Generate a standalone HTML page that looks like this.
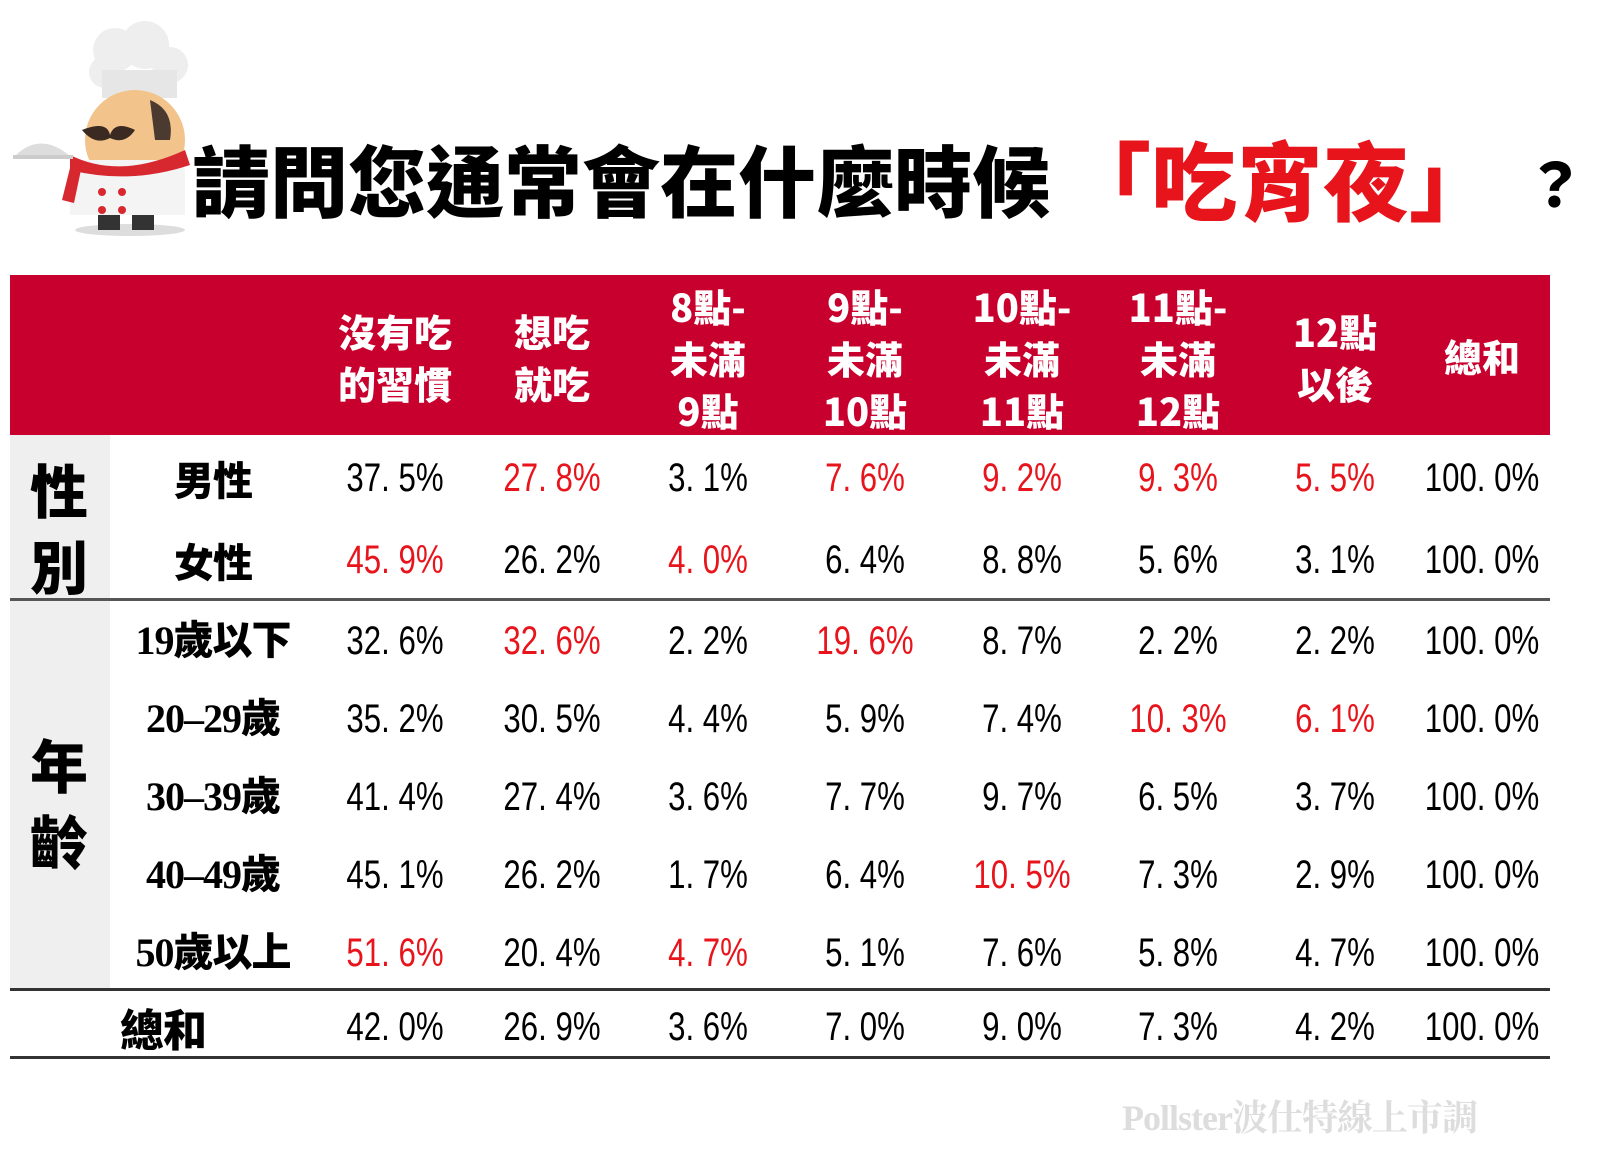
<!DOCTYPE html>
<html><head><meta charset="utf-8">
<style>
body{margin:0;width:1600px;height:1173px;background:#fff;position:relative;overflow:hidden;font-family:"Liberation Sans","Noto Sans CJK TC",sans-serif}
.a{position:absolute}
.t{position:absolute;font-size:78px;font-weight:900;top:122px;letter-spacing:0px;font-family:"Noto Sans CJK TC",sans-serif;white-space:nowrap}
.h{position:absolute;color:#fff;font-weight:900;font-size:38px;line-height:52px;text-align:center;width:160px;font-family:"Noto Sans CJK TC",sans-serif}
.n{position:absolute;font-size:40px;line-height:40px;width:200px;margin-left:-100px;text-align:center;transform:scaleX(0.78);white-space:pre}
.r{color:#e8141c}
.l{position:absolute;font-size:40px;font-weight:900;line-height:44px;width:200px;margin-left:-100px;text-align:center;font-family:"Noto Sans CJK TC",sans-serif;letter-spacing:-1px}
</style></head><body>
<svg class="a" style="left:10px;top:10px" width="190" height="230" viewBox="0 0 190 230">
<ellipse cx="120" cy="220" rx="55" ry="6" fill="#ddd"/>
<circle cx="105" cy="40" r="22" fill="#eee"/><circle cx="135" cy="35" r="24" fill="#eee"/><circle cx="160" cy="55" r="18" fill="#eee"/><circle cx="95" cy="62" r="16" fill="#eee"/>
<rect x="92" y="60" width="75" height="28" fill="#e6e6e6"/>
<ellipse cx="125" cy="130" rx="50" ry="50" fill="#f2c38a"/>
<path d="M140 90 q25 10 20 40 l-15 0z" fill="#4a3a30"/>
<path d="M72 120 q25 -10 28 5 q5 -15 25 -5 q-10 15 -25 8 q-15 8 -28 -8z" fill="#3b2a22"/>
<path d="M60 150 h110 l5 10 v45 h-115z" fill="#f4f4f4"/>
<path d="M60 145 q50 25 115 -5 l5 15 q-60 20 -120 5z" fill="#d7282f"/>
<path d="M62 150 l-10 40 l12 3 l8 -38z" fill="#d7282f"/>
<circle cx="92" cy="182" r="4" fill="#d7282f"/><circle cx="112" cy="182" r="4" fill="#d7282f"/><circle cx="92" cy="200" r="4" fill="#d7282f"/><circle cx="112" cy="200" r="4" fill="#d7282f"/>
<rect x="88" y="205" width="22" height="15" fill="#333"/><rect x="122" y="205" width="22" height="15" fill="#333"/>
<path d="M5 146 q25 -25 55 0z" fill="#ddd"/><rect x="3" y="145" width="60" height="4" fill="#ccc"/>
</svg>
<div class="t" style="left:192px">請問您通常會在什麼時候</div>
<div class="t" style="left:1065px;color:#e8141c;font-size:86px;top:114px">「吃宵夜」</div>
<div class="t" style="left:1525px;font-size:60px;top:138px">？</div>

<div class="a" style="left:10px;top:275px;width:1540px;height:160px;background:#c8002e"></div>
<div class="h" style="left:315px;top:305px">沒有吃<br>的習慣</div>
<div class="h" style="left:472px;top:305px">想吃<br>就吃</div>
<div class="h" style="left:628px;top:280px">8點-<br>未滿<br>9點</div>
<div class="h" style="left:785px;top:280px">9點-<br>未滿<br>10點</div>
<div class="h" style="left:942px;top:280px">10點-<br>未滿<br>11點</div>
<div class="h" style="left:1098px;top:280px">11點-<br>未滿<br>12點</div>
<div class="h" style="left:1255px;top:305px">12點<br>以後</div>
<div class="h" style="left:1402px;top:330px">總和</div>

<div class="a" style="left:10px;top:435px;width:100px;height:555px;background:#efefef"></div>
<div class="a" style="left:10px;top:598px;width:1540px;height:3px;background:#555"></div>
<div class="a" style="left:10px;top:988px;width:1540px;height:3px;background:#333"></div>
<div class="a" style="left:10px;top:1056px;width:1540px;height:3px;background:#333"></div>
<div class="a" style="left:30px;top:450px;font-size:58px;font-weight:900;line-height:76px;font-family:'Noto Sans CJK TC',sans-serif">性<br>別</div>
<div class="a" style="left:30px;top:725px;font-size:58px;font-weight:900;line-height:76px;font-family:'Noto Sans CJK TC',sans-serif">年<br>齡</div>

<div class="l" style="left:213px;top:456px">男性</div>
<div class="l" style="left:213px;top:538px">女性</div>
<div class="l" style="left:213px;top:619px;font-family:'Liberation Serif','Noto Sans CJK TC',serif">19歲以下</div>
<div class="l" style="left:213px;top:697px;font-family:'Liberation Serif','Noto Sans CJK TC',serif">20–29歲</div>
<div class="l" style="left:213px;top:775px;font-family:'Liberation Serif','Noto Sans CJK TC',serif">30–39歲</div>
<div class="l" style="left:213px;top:853px;font-family:'Liberation Serif','Noto Sans CJK TC',serif">40–49歲</div>
<div class="l" style="left:213px;top:931px;font-family:'Liberation Serif','Noto Sans CJK TC',serif">50歲以上</div>
<div class="l" style="left:163px;top:1005px;font-size:44px">總和</div>

<div class="n" style="left:395px;top:458px">37. 5%</div><div class="n r" style="left:552px;top:458px">27. 8%</div><div class="n" style="left:708px;top:458px">3. 1%</div><div class="n r" style="left:865px;top:458px">7. 6%</div><div class="n r" style="left:1022px;top:458px">9. 2%</div><div class="n r" style="left:1178px;top:458px">9. 3%</div><div class="n r" style="left:1335px;top:458px">5. 5%</div><div class="n" style="left:1482px;top:458px">100. 0%</div>
<div class="n r" style="left:395px;top:540px">45. 9%</div><div class="n" style="left:552px;top:540px">26. 2%</div><div class="n r" style="left:708px;top:540px">4. 0%</div><div class="n" style="left:865px;top:540px">6. 4%</div><div class="n" style="left:1022px;top:540px">8. 8%</div><div class="n" style="left:1178px;top:540px">5. 6%</div><div class="n" style="left:1335px;top:540px">3. 1%</div><div class="n" style="left:1482px;top:540px">100. 0%</div>
<div class="n" style="left:395px;top:621px">32. 6%</div><div class="n r" style="left:552px;top:621px">32. 6%</div><div class="n" style="left:708px;top:621px">2. 2%</div><div class="n r" style="left:865px;top:621px">19. 6%</div><div class="n" style="left:1022px;top:621px">8. 7%</div><div class="n" style="left:1178px;top:621px">2. 2%</div><div class="n" style="left:1335px;top:621px">2. 2%</div><div class="n" style="left:1482px;top:621px">100. 0%</div>
<div class="n" style="left:395px;top:699px">35. 2%</div><div class="n" style="left:552px;top:699px">30. 5%</div><div class="n" style="left:708px;top:699px">4. 4%</div><div class="n" style="left:865px;top:699px">5. 9%</div><div class="n" style="left:1022px;top:699px">7. 4%</div><div class="n r" style="left:1178px;top:699px">10. 3%</div><div class="n r" style="left:1335px;top:699px">6. 1%</div><div class="n" style="left:1482px;top:699px">100. 0%</div>
<div class="n" style="left:395px;top:777px">41. 4%</div><div class="n" style="left:552px;top:777px">27. 4%</div><div class="n" style="left:708px;top:777px">3. 6%</div><div class="n" style="left:865px;top:777px">7. 7%</div><div class="n" style="left:1022px;top:777px">9. 7%</div><div class="n" style="left:1178px;top:777px">6. 5%</div><div class="n" style="left:1335px;top:777px">3. 7%</div><div class="n" style="left:1482px;top:777px">100. 0%</div>
<div class="n" style="left:395px;top:855px">45. 1%</div><div class="n" style="left:552px;top:855px">26. 2%</div><div class="n" style="left:708px;top:855px">1. 7%</div><div class="n" style="left:865px;top:855px">6. 4%</div><div class="n r" style="left:1022px;top:855px">10. 5%</div><div class="n" style="left:1178px;top:855px">7. 3%</div><div class="n" style="left:1335px;top:855px">2. 9%</div><div class="n" style="left:1482px;top:855px">100. 0%</div>
<div class="n r" style="left:395px;top:933px">51. 6%</div><div class="n" style="left:552px;top:933px">20. 4%</div><div class="n r" style="left:708px;top:933px">4. 7%</div><div class="n" style="left:865px;top:933px">5. 1%</div><div class="n" style="left:1022px;top:933px">7. 6%</div><div class="n" style="left:1178px;top:933px">5. 8%</div><div class="n" style="left:1335px;top:933px">4. 7%</div><div class="n" style="left:1482px;top:933px">100. 0%</div>
<div class="n" style="left:395px;top:1007px">42. 0%</div><div class="n" style="left:552px;top:1007px">26. 9%</div><div class="n" style="left:708px;top:1007px">3. 6%</div><div class="n" style="left:865px;top:1007px">7. 0%</div><div class="n" style="left:1022px;top:1007px">9. 0%</div><div class="n" style="left:1178px;top:1007px">7. 3%</div><div class="n" style="left:1335px;top:1007px">4. 2%</div><div class="n" style="left:1482px;top:1007px">100. 0%</div>

<div class="a" style="left:1122px;top:1090px;font-size:36px;font-weight:bold;color:#ddd;font-family:'Liberation Serif','Noto Serif CJK SC',serif;letter-spacing:-1px">Pollster波仕特線上市調</div>
</body></html>
